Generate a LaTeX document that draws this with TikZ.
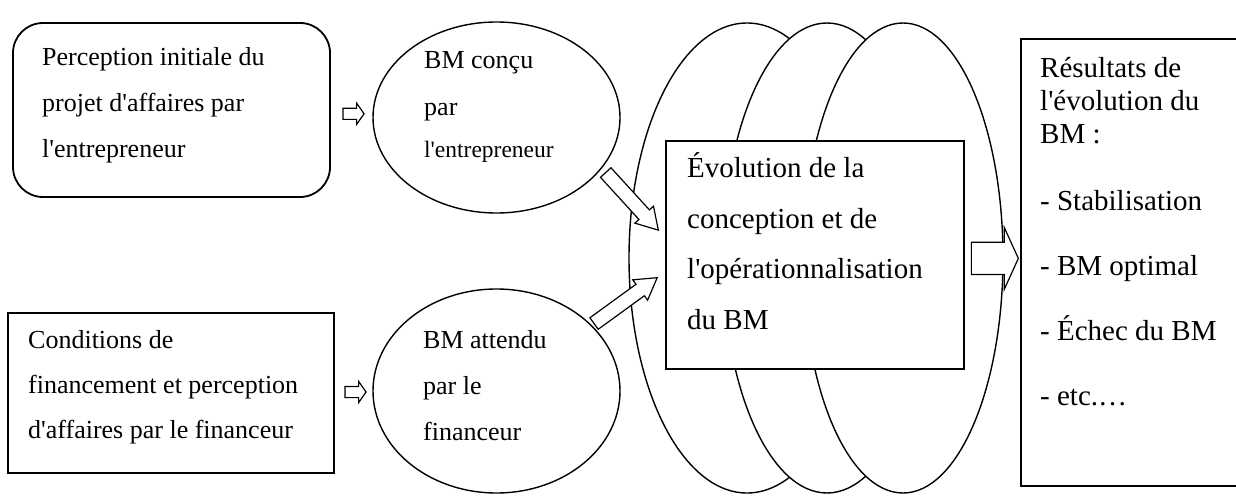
\documentclass[tikz,border=0pt]{standalone}
\usepackage{fontspec}
\setmainfont{Liberation Serif}[Ligatures=TeXOff]
\usetikzlibrary{shapes.geometric,shapes.arrows,calc}

\tikzset{
  box/.style={draw, line width=1.8pt, fill=white, inner sep=0pt},
  oval/.style={ellipse, draw, line width=1.4pt, fill=white, inner sep=0pt},
  txt/.style={anchor=base west, align=left, inner sep=0pt},
  blockarrow/.style={single arrow, draw, line width=1.2pt, fill=white, inner xsep=0pt},
  smallarrow/.style={blockarrow, minimum height=21pt, inner ysep=5pt,
    single arrow head extend=5pt, single arrow tip angle=110},
  diagarrow/.style={blockarrow, minimum height=78pt, inner ysep=6.5pt,
    single arrow head extend=5.5pt, single arrow tip angle=62, anchor=tip},
}

\begin{document}
\begin{tikzpicture}[x=1pt,y=-1pt]
    \useasboundingbox (0,0) rectangle (1236,495);

    % evolution loop
    \node[oval, minimum width=236pt, minimum height=470pt] (loopa) at (747,258) {};
    \node[oval, minimum width=208pt, minimum height=470pt] (loopb) at (827,258) {};
    \node[oval, minimum width=200pt, minimum height=470pt] (loopc) at (903,258) {};
    \node[box, minimum width=298pt, minimum height=228pt] (evol) at (815,255) {};
    \node[txt, font=\fontsize{29}{50.5}\selectfont] (evoltxt) at (687,329)
        {Évolution de la\\conception et de\\l'opérationnalisation\\du BM};

    % entrepreneur
    \node[box, rounded corners=30pt, minimum width=317pt, minimum height=174pt] (percep) at (171.5,110) {};
    \node[txt, font=\fontsize{26}{46}\selectfont] (perceptxt) at (42,157)
        {Perception initiale du\\projet d'affaires par\\l'entrepreneur};
    \node[oval, minimum width=247pt, minimum height=191pt] (concu) at (496.5,117.5) {};
    \node[txt, font=\fontsize{26}{47}\selectfont] (concutxt) at (424,157)
        {BM conçu\\par\\[-5pt]{\fontsize{23.5}{28}\selectfont l'entrepreneur}};

    % financeur
    \node[box, minimum width=326pt, minimum height=160pt] (condit) at (171,393) {};
    \node[txt, font=\fontsize{26}{45}\selectfont] (condittxt) at (28,438)
        {Conditions de\\financement et perception\\d'affaires par le financeur};
    \node[oval, minimum width=247pt, minimum height=204pt] (attendu) at (496.5,391) {};
    \node[txt, font=\fontsize{26}{46}\selectfont] (attendutxt) at (423,440)
        {BM attendu\\par le\\financeur};

    % results
    \node[box, anchor=north west, minimum width=230pt, minimum height=447pt] (result) at (1020,38) {};
    \node[txt, font=\fontsize{29}{33}\selectfont] (resulttxt) at (1040,405)
        {Résultats de\\l'évolution du\\BM :\\[34pt]- Stabilisation\\[32pt]- BM optimal\\[32pt]- Échec du BM\\[32pt]- etc.…};

    % block arrows
    \node[smallarrow] (arrcon) at ($(percep.east)!0.5!(concu.west)$) {};
    \node[smallarrow] (arratt) at ($(condit.east)!0.5!(attendu.west)$) {};
    \node[diagarrow, rotate=-47.6] (arrin) at ($(evol.west)+(-6,-24)$) {};
    \node[diagarrow, rotate=36] (arrfin) at ($(evol.west)+(-7,22)$) {};
    \node[blockarrow, anchor=tip, minimum height=47pt, inner ysep=15.5pt,
        single arrow head extend=15pt, single arrow tip angle=131] (arrout) at ($(result.west)+(-1,-4)$) {};
\end{tikzpicture}
\end{document}
